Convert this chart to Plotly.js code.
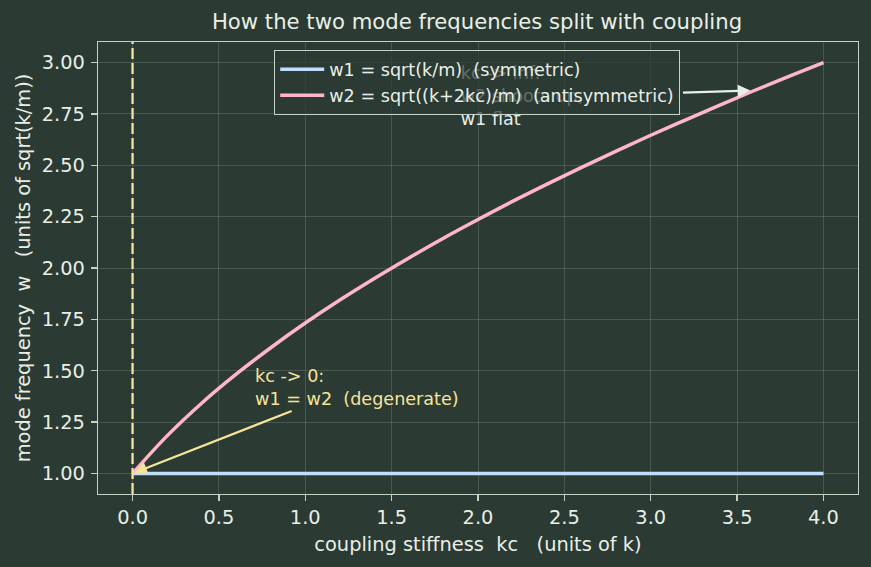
<!DOCTYPE html>
<html>
<head>
<meta charset="utf-8">
<script src="https://cdn.plot.ly/plotly-3.0.1.min.js"></script>
<style>html,body{margin:0;padding:0;background:#2b3a33;}#chart{width:871px;height:567px;}</style>
</head>
<body>
<div id="chart"></div>
<script>
// coupling stiffness kc (units of k)
const kc = [0, 0.2, 0.4, 0.6, 0.8, 1.0, 1.2, 1.4, 1.6, 1.8, 2.0, 2.2, 2.4, 2.6, 2.8, 3.0, 3.2, 3.4, 3.6, 3.8, 4.0];
// symmetric mode (flat)
const w1 = [1, 1, 1, 1, 1, 1, 1, 1, 1, 1, 1, 1, 1, 1, 1, 1, 1, 1, 1, 1, 1];
// antisymmetric mode
const w2 = [1.000, 1.183, 1.342, 1.483, 1.612, 1.732, 1.844, 1.949, 2.049, 2.145, 2.236, 2.324, 2.408, 2.490, 2.569, 2.646, 2.720, 2.793, 2.864, 2.933, 3.000];
const seriesNames = ['w1 = sqrt(k/m)\u00a0\u00a0(symmetric)', 'w2 = sqrt((k+2kc)/m)\u00a0\u00a0(antisymmetric)'];
const xTicks = [0, 0.5, 1, 1.5, 2, 2.5, 3, 3.5, 4];
const xTickText = ['0.0', '0.5', '1.0', '1.5', '2.0', '2.5', '3.0', '3.5', '4.0'];
const yTicks = [1, 1.25, 1.5, 1.75, 2, 2.25, 2.5, 2.75, 3];
const yTickText = ['1.00', '1.25', '1.50', '1.75', '2.00', '2.25', '2.50', '2.75', '3.00'];
const noteInfText = 'kc -> inf:<br>w2 shoots up,<br>w1 flat';
const noteInfPos = {x: [1.9], y: [2.83]};
const noteZeroText = 'kc -> 0:<br>w1 = w2\u00a0\u00a0(degenerate)';

const BG = '#2b3a33';
const FG = '#e8efe8';
const FRAME = '#c5d3c5';
const GRID = 'rgba(220,235,220,0.17)';
const YEL = '#f6e49a';
const FONT = 'DejaVu Sans, sans-serif';

const traces = [
  {x: kc, y: w1, type: 'scatter', mode: 'lines', name: seriesNames[0],
   line: {color: '#bfe0fd', width: 3.5}, hoverinfo: 'skip'},
  {x: kc, y: w2, type: 'scatter', mode: 'lines', name: seriesNames[1],
   line: {color: '#ffb6c9', width: 3.5, shape: 'spline'}, hoverinfo: 'skip'},
  {x: noteInfPos.x, y: noteInfPos.y, type: 'scatter', mode: 'text', text: [noteInfText],
   textposition: 'middle right', textfont: {family: FONT, size: 17.6, color: FG},
   showlegend: false, hoverinfo: 'skip'}
];

const axisCommon = {
  showline: true, linecolor: FRAME, linewidth: 1.2, mirror: true,
  ticks: 'outside', ticklen: 6, tickwidth: 1.2, tickcolor: FRAME,
  showgrid: true, gridcolor: GRID, gridwidth: 1, zeroline: false,
  tickfont: {family: FONT, size: 19.4, color: FG}
};

const layout = {
  width: 871, height: 567,
  paper_bgcolor: BG, plot_bgcolor: BG,
  margin: {l: 98, r: 13, t: 42, b: 73},
  font: {family: FONT, color: FG},
  title: {text: 'How the two mode frequencies split with coupling',
          font: {family: FONT, size: 21.2, color: FG},
          x: 0.4987, xref: 'paper', xanchor: 'center', y: 0.962, yref: 'container', yanchor: 'middle'},
  xaxis: Object.assign({}, axisCommon, {
    range: [-0.2, 4.2], tickvals: xTicks, ticktext: xTickText,
    title: {text: 'coupling stiffness\u00a0\u00a0kc\u00a0\u00a0\u00a0(units of k)', font: {family: FONT, size: 19.4, color: FG}, standoff: 9}
  }),
  yaxis: Object.assign({}, axisCommon, {
    range: [0.9, 3.1], tickvals: yTicks, ticktext: yTickText, ticklabelstandoff: 2,
    title: {text: 'mode frequency\u00a0\u00a0w\u00a0\u00a0\u00a0(units of sqrt(k/m))', font: {family: FONT, size: 19.4, color: FG}, standoff: 6}
  }),
  showlegend: true,
  legend: {x: 0.2316, y: 0.982, xanchor: 'left', yanchor: 'top',
           bgcolor: 'rgba(43,58,51,0.72)', bordercolor: FRAME, borderwidth: 1.2,
           font: {family: FONT, size: 17.6, color: FG}, tracegroupgap: 0, itemwidth: 44},
  shapes: [
    {type: 'line', xref: 'x', yref: 'paper', x0: 0, x1: 0, y0: 0, y1: 1,
     line: {color: YEL, width: 2.3, dash: '11px,4px'}, layer: 'above'}
  ],
  annotations: [
    {x: 0.7, y: 1.42, xref: 'x', yref: 'y', text: noteZeroText, showarrow: false,
     xanchor: 'left', yanchor: 'middle', align: 'left',
     font: {family: FONT, size: 17.6, color: YEL}},
    {x: 0, y: 1, xref: 'x', yref: 'y', ax: 0.93, ay: 1.307, axref: 'x', ayref: 'y',
     text: '', showarrow: true, arrowhead: 2, arrowsize: 1.1, arrowwidth: 2.3,
     arrowcolor: YEL, standoff: 2},
    {x: 3.6, y: 2.864, xref: 'x', yref: 'y', ax: 3.178, ay: 2.853, axref: 'x', ayref: 'y',
     text: '', showarrow: true, arrowhead: 2, arrowsize: 1.1, arrowwidth: 2.3,
     arrowcolor: FG, standoff: 4}
  ]
};

Plotly.newPlot('chart', traces, layout, {displayModeBar: false, staticPlot: true});
</script>
</body>
</html>
